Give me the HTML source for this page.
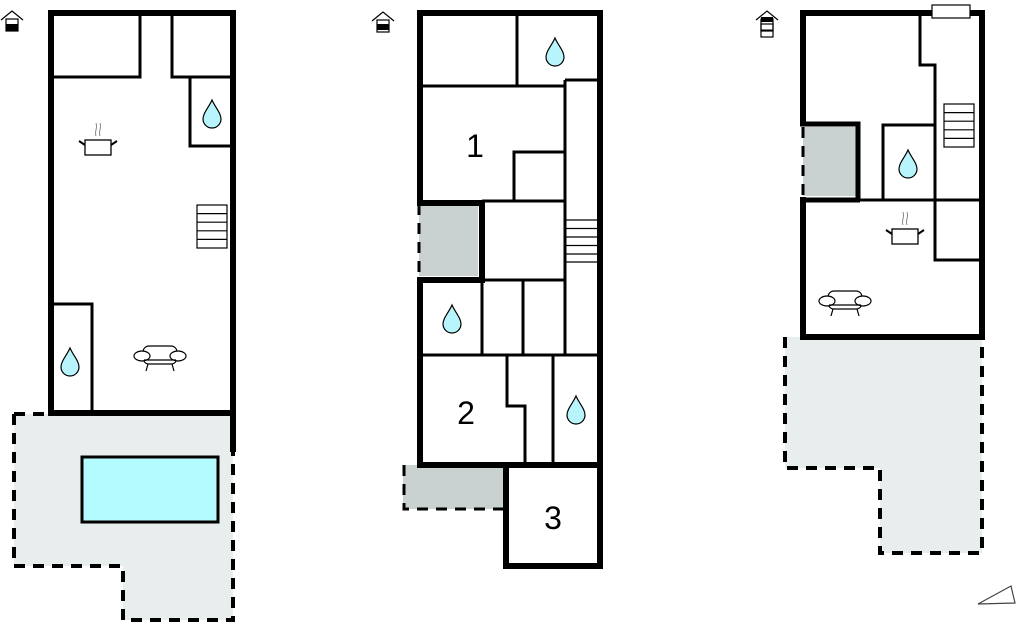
<!DOCTYPE html>
<html><head><meta charset="utf-8"><style>
html,body{margin:0;padding:0;background:#fff;width:1024px;height:624px;overflow:hidden}
svg{display:block}
text{font-family:"Liberation Sans",sans-serif;fill:#000}
</style></head><body>
<svg width="1024" height="624" viewBox="0 0 1024 624" xmlns="http://www.w3.org/2000/svg">
<defs>
<g id="drop"><path d="M0,-14 C-3,-7 -9,-1 -9,5 A9,9 0 0 0 9,5 C9,-1 3,-7 0,-14 Z" fill="#b8f4fb" stroke="#000" stroke-width="1.2"/></g>
<g id="pot" fill="none" stroke="#000">
<rect x="-13" y="-7" width="26" height="15" fill="#fff" stroke-width="1.3"/>
<path d="M-13,-2 L-19,-6 M13,-2 L19,-6" stroke-width="2"/>
<path d="M-2,-11 C-4,-16 0,-18 -2,-24 M2,-11 C0,-16 4,-18 2,-24" stroke="#888" stroke-width="1"/>
</g>
<g id="sofa" fill="#fff" stroke="#000" stroke-width="1.2">
<rect x="-17" y="-11" width="34" height="18" rx="6"/>
<ellipse cx="-18" cy="-1" rx="8" ry="5"/>
<ellipse cx="18" cy="-1" rx="8" ry="5"/>
<path d="M-16,3 H16" />
<path d="M-12,7 L-14,14 M12,7 L14,14" fill="none"/>
</g>
<g id="house" fill="none" stroke="#000" stroke-width="1.2">
<path d="M-11,-4 L0,-13 L11,-4"/>
<rect x="-6" y="-5" width="12" height="12" fill="#fff"/>
</g>
</defs>

<!-- ===== LEFT PLAN ===== -->
<g>
<use href="#house" x="12" y="24"/>
<rect x="6" y="24" width="12" height="7" fill="#000"/>
<polygon points="14,414 233,414 233,620 123,620 123,566 14,566" fill="#e8eeee"/>
<g stroke="#000" stroke-width="4" fill="none" stroke-dasharray="11,8">
<path d="M14,414 H48"/>
<path d="M14,414 V566 H123 V620 H233 V452"/>
</g>
<rect x="82" y="457" width="136" height="65" fill="#b3fbff" stroke="#000" stroke-width="3"/>
<g stroke="#000" fill="none">
<rect x="51" y="13" width="182" height="400" stroke-width="6"/>
<path d="M233,410 V452" stroke-width="6"/>
<path d="M54,77 H140 V13" stroke-width="3"/>
<path d="M172,13 V77 H233 M190,77 V146 H233" stroke-width="3"/>
<path d="M54,304 H92 V413" stroke-width="3"/>
</g>
<use href="#drop" x="212" y="114"/>
<use href="#drop" x="70" y="362"/>
<use href="#pot" x="98" y="147"/>
<use href="#sofa" x="160" y="357"/>
<g stroke="#000" stroke-width="1.2" fill="#fff">
<rect x="197" y="205" width="30" height="43"/>
<path d="M197,213.6 H227 M197,222.2 H227 M197,230.8 H227 M197,239.4 H227" fill="none"/>
</g>
</g>

<!-- ===== MIDDLE PLAN ===== -->
<g>
<use href="#house" x="383" y="25"/>
<rect x="377" y="24" width="12" height="6" fill="#000"/>
<rect x="403" y="465" width="100" height="44" fill="#c9d1d1"/>
<path d="M404,465 V509 H503" stroke="#000" stroke-width="3" fill="none" stroke-dasharray="11,8"/>
<rect x="419" y="204" width="59" height="72" fill="#c9d1d1"/>
<path d="M419,204 V276" stroke="#000" stroke-width="3" fill="none" stroke-dasharray="11,8"/>
<g stroke="#000" fill="none">
<path d="M420,203 V13 H600 V566 H506 V465" stroke-width="6"/>
<path d="M420,279 V465 H600" stroke-width="6"/>
<path d="M417,203 H482 V280 H417" stroke-width="6"/>
<path d="M517,13 V86 M419,86 H565 M565,80 H600 M565,80 V355" stroke-width="3"/>
<path d="M482,201 H565 M514,201 V152 H565" stroke-width="3"/>
<path d="M482,280 H565 M482,280 V355 M523,280 V355 M419,355 H600" stroke-width="3"/>
<path d="M507,355 V406 H525 V465 M553,355 V465" stroke-width="3"/>
</g>
<g stroke="#000" stroke-width="1.2">
<path d="M566,220 H597 M566,228.5 H597 M566,237 H597 M566,245.5 H597 M566,254 H597 M566,262 H597"/>
</g>
<use href="#drop" x="555" y="52"/>
<use href="#drop" x="452" y="319"/>
<use href="#drop" x="576" y="410"/>
<text x="475" y="157" font-size="32" text-anchor="middle">1</text>
<text x="466" y="424" font-size="32" text-anchor="middle">2</text>
<text x="553" y="529" font-size="32" text-anchor="middle">3</text>
</g>

<!-- ===== RIGHT PLAN ===== -->
<g>
<use href="#house" x="767" y="24"/>
<rect x="761" y="17" width="12" height="5" fill="#000"/>
<rect x="761" y="24" width="12" height="13" fill="none" stroke="#000" stroke-width="1.2"/>
<path d="M761,30 H773" stroke="#000" stroke-width="1"/>
<polygon points="785,337 982,337 982,553 880,553 880,468 785,468" fill="#e8eeee"/>
<path d="M785,337 V468 H880 V553 H982 V337" stroke="#000" stroke-width="4" fill="none" stroke-dasharray="11,8"/>
<rect x="803" y="127" width="53" height="69" fill="#c9d1d1"/>
<path d="M803,127 V196" stroke="#000" stroke-width="3" fill="none" stroke-dasharray="11,8"/>
<g stroke="#000" fill="none">
<path d="M803,125 V13 H982 V337 H803 V197" stroke-width="6"/>
<path d="M800,124 H858 V200" stroke-width="5"/>
<path d="M920,13 V65 H935 V200 M856,200 H982 M883,200 V125 H935" stroke-width="3"/>
<path d="M803,200 H860" stroke-width="5"/>
<path d="M935,200 V260 H982" stroke-width="3"/>
</g>
<rect x="932" y="5" width="38" height="13" fill="#fff" stroke="#000" stroke-width="1.2"/>
<g stroke="#000" stroke-width="1.2" fill="#fff">
<rect x="944" y="104" width="30" height="43"/>
<path d="M944,112.6 H974 M944,121.2 H974 M944,129.8 H974 M944,138.4 H974" fill="none"/>
</g>
<use href="#drop" x="908" y="164"/>
<use href="#pot" x="905" y="236"/>
<use href="#sofa" x="845" y="302"/>
<polygon points="978,604 1011,586 1015,603" fill="none" stroke="#444" stroke-width="1.2"/>
</g>
</svg>
</body></html>
